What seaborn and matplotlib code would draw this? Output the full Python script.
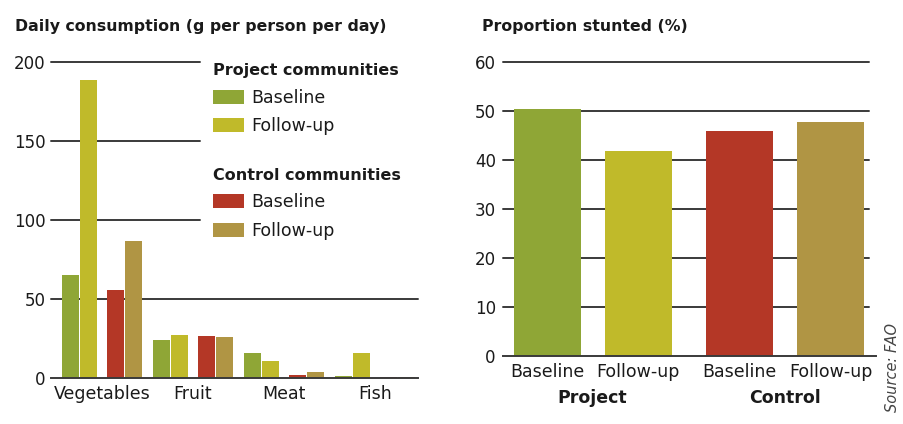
import matplotlib
matplotlib.use("Agg")
import matplotlib.pyplot as plt
import matplotlib.patches as mpatches
import matplotlib.transforms as mtransforms
import pandas as pd
import seaborn as sns

# ---------------- data ----------------
foods = ["Vegetables", "Fruit", "Meat", "Fish"]
series = ["Project Baseline", "Project Follow-up", "Control Baseline", "Control Follow-up"]
proj_baseline = [65, 24, 15.6, 1.2]
proj_followup = [188.5, 27, 10.6, 15.6]
ctrl_baseline = [55.5, 26.4, 1.7, 0.3]
ctrl_followup = [86.5, 25.7, 3.6, 0.6]

stunt_groups = ["Project", "Project", "Control", "Control"]
stunt_phases = ["Baseline", "Follow-up", "Baseline", "Follow-up"]
stunted = [50.3, 41.8, 45.9, 47.7]

left_ticks = [0, 50, 100, 150, 200]
right_ticks = [0, 10, 20, 30, 40, 50, 60]

colors = ["#8fa636", "#c0ba2a", "#b43726", "#b09544"]
TXT = "#1a1a1a"
GRID = "#3a3a3a"

sns.set_theme(style="white")
plt.rcParams["font.family"] = ["DejaVu Sans"]
plt.rcParams["text.color"] = TXT

fig = plt.figure(figsize=(9.04, 4.24), dpi=100)
W, H = 904, 424

# ---------------- left chart ----------------
rows = []
for s, vals in zip(series, [proj_baseline, proj_followup, ctrl_baseline, ctrl_followup]):
    for f, v in zip(foods, vals):
        rows.append({"food": f, "series": s, "value": v})
df = pd.DataFrame(rows)

axL = fig.add_axes([51 / W, 1 - 377.7 / H, 367 / W, (377.7 - 61.7) / H])
sns.barplot(data=df, x="food", y="value", hue="series", hue_order=series,
            order=foods, palette=colors, width=0.79, gap=0.055,
            saturation=1, legend=False, ax=axL, zorder=3, errorbar=None)
shift = [-0.049, -0.049, 0.049, 0.049]
for cont, dx in zip(axL.containers, shift):
    for p in cont.patches:
        p.set_x(p.get_x() + dx)
        p.set_linewidth(0)

axL.set_xlim(-0.56, 3.473)
axL.set_ylim(0, 200)
axL.set_yticks(left_ticks)
axL.set_xlabel("")
axL.set_ylabel("")
for sp in ["top", "right", "left"]:
    axL.spines[sp].set_visible(False)
axL.spines["bottom"].set_color(GRID)
axL.spines["bottom"].set_linewidth(1.4)
axL.spines["bottom"].set_zorder(4)
axL.tick_params(axis="both", length=0)
axL.tick_params(axis="y", pad=4, labelsize=12, labelcolor=TXT)
axL.tick_params(axis="x", pad=5, labelsize=12.5, labelcolor=TXT)
for yv, xm in [(50, 1.0), (100, 0.406), (150, 0.406), (200, 0.406)]:
    axL.axhline(yv, xmin=0, xmax=xm, color=GRID, lw=1.4, zorder=1, clip_on=False)

fig.text(15 / W, 1 - 26 / H, "Daily consumption (g per person per day)",
         ha="left", va="center", fontsize=11.3, fontweight="bold", color=TXT)

# legends
def make_handles(cols, labels):
    return [mpatches.Patch(facecolor=c, edgecolor="none", label=l) for c, l in zip(cols, labels)]

leg_kw = dict(loc="upper left", frameon=False, borderpad=0, borderaxespad=0,
              fontsize=12.5, handlelength=1.78, handleheight=0.86,
              handletextpad=0.4, labelspacing=0.6, alignment="left",
              title_fontproperties={"weight": "bold", "size": 11.5},
              bbox_transform=fig.transFigure)
leg1 = fig.legend(handles=make_handles(colors[:2], ["Baseline", "Follow-up"]),
                  title="Project communities",
                  bbox_to_anchor=(213 / W, 1 - 63.5 / H), **leg_kw)
leg2 = fig.legend(handles=make_handles(colors[2:], ["Baseline", "Follow-up"]),
                  title="Control communities",
                  bbox_to_anchor=(213 / W, 1 - 168 / H), **leg_kw)
for lg in (leg1, leg2):
    for t in lg.get_texts():
        t.set_color(TXT)
    lg.get_title().set_color(TXT)

# ---------------- right chart ----------------
keys = [g + " " + p for g, p in zip(stunt_groups, stunt_phases)]
df2 = pd.DataFrame({"key": keys, "group": stunt_groups, "phase": stunt_phases, "value": stunted})

axR = fig.add_axes([502.7 / W, 1 - 355.7 / H, 373 / W, 294 / H])
sns.barplot(data=df2, x="key", y="value", hue="key", order=keys, hue_order=keys,
            palette=colors, width=0.736, dodge=False, saturation=1,
            legend=False, ax=axR, zorder=3, errorbar=None)
for p, g in zip(axR.patches, stunt_groups):
    p.set_linewidth(0)
    if g == "Control":
        p.set_x(p.get_x() + 0.115)
centers = [p.get_x() + p.get_width() / 2 for p in axR.patches]
axR.set_xticks(centers)
axR.set_xticklabels(stunt_phases)
axR.set_xlim(-0.487, 3.612)
axR.set_ylim(0, 60)
axR.set_yticks(right_ticks)
axR.set_xlabel("")
axR.set_ylabel("")
for sp in ["top", "right", "left"]:
    axR.spines[sp].set_visible(False)
axR.spines["bottom"].set_color(GRID)
axR.spines["bottom"].set_linewidth(1.4)
axR.spines["bottom"].set_zorder(4)
axR.tick_params(axis="both", length=0)
axR.tick_params(axis="y", pad=5, labelsize=12, labelcolor=TXT)
axR.tick_params(axis="x", pad=5, labelsize=12.5, labelcolor=TXT)
for yv in right_ticks[1:]:
    axR.axhline(yv, xmin=0, xmax=0.982, color=GRID, lw=1.4, zorder=1, clip_on=False)

trans = mtransforms.blended_transform_factory(axR.transData, axR.transAxes)
for g in ["Project", "Control"]:
    cx = [c for c, gg in zip(centers, stunt_groups) if gg == g]
    axR.text(sum(cx) / len(cx), -(398 - 355.7) / 294, g, transform=trans,
             ha="center", va="center", fontsize=12.5, fontweight="bold", color=TXT)

fig.text(482 / W, 1 - 26 / H, "Proportion stunted (%)",
         ha="left", va="center", fontsize=11.3, fontweight="bold", color=TXT)

fig.text(893 / W, 1 - 368 / H, "Source: FAO", rotation=90, style="italic",
         ha="center", va="center", fontsize=10.5, color="#444444")

fig.savefig("out.png", dpi=100)
